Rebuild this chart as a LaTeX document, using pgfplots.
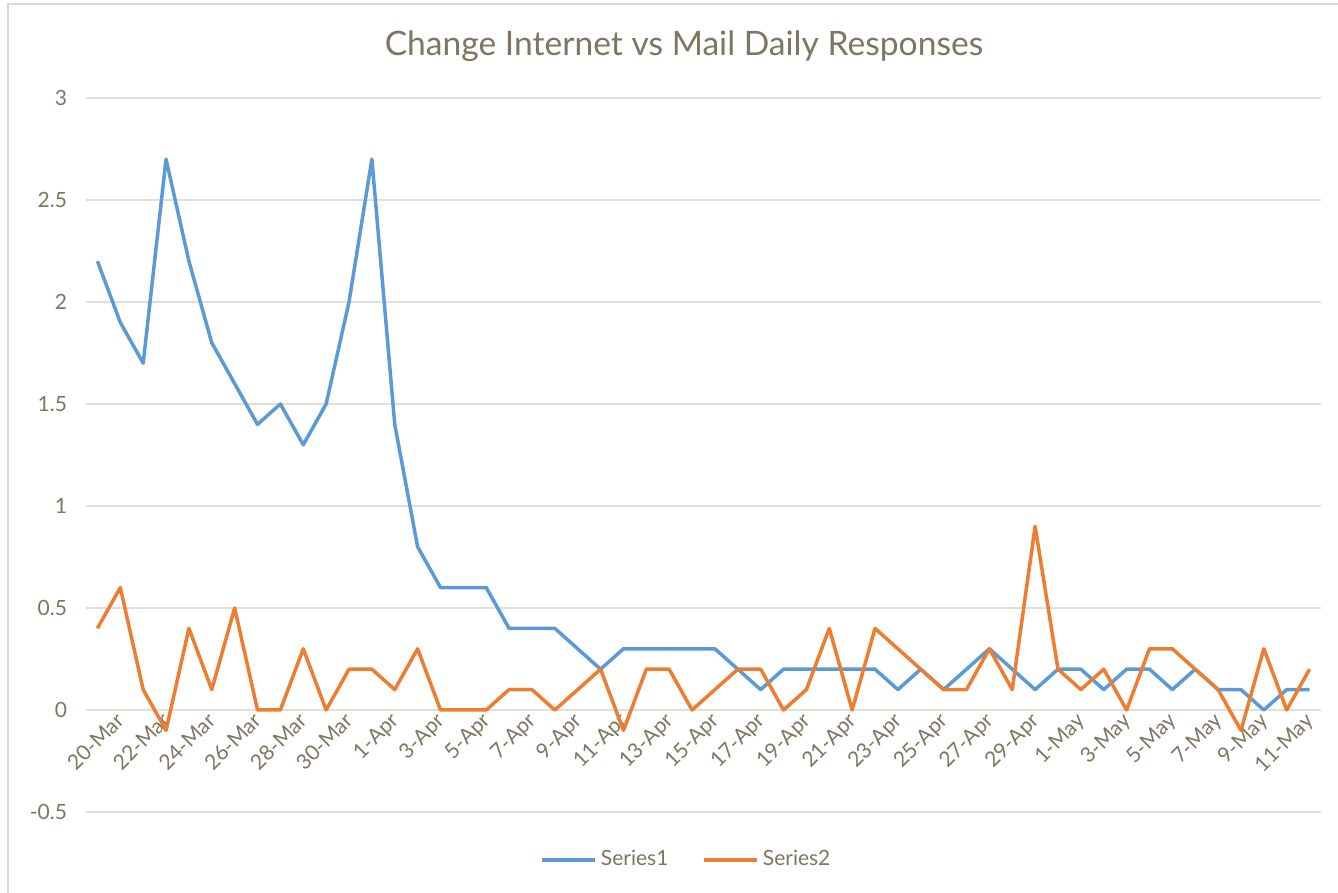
\documentclass[border=0pt]{standalone}
\usepackage{fontspec}
\setmainfont{Lato}
\usepackage{pgfplots}
\pgfplotsset{compat=1.18}
\definecolor{txt}{HTML}{7D7660}
\definecolor{gridc}{HTML}{E2DFD5}
\definecolor{framec}{HTML}{DAD7CC}
\definecolor{sone}{HTML}{5B9BD5}
\definecolor{stwo}{HTML}{ED7D31}
\begin{document}
\begin{tikzpicture}
\useasboundingbox (-43pt,-40.5pt) rectangle (626pt,406pt);
\fill[white] (-43pt,-40.5pt) rectangle (626pt,406pt);
\draw[framec, line width=1pt] (-38.75pt,-41pt) -- (-38.75pt,404pt) -- (627pt,404pt);
\begin{axis}[
  scale only axis, width=617.5pt, height=357pt,
  xmin=-0.5, xmax=53.5, ymin=-0.5, ymax=3,
  axis x line=middle, axis y line=left,
  axis line style={draw=none,-},
  ytick={-0.5,0,0.5,1,1.5,2,2.5,3},
  xtick={0,2,...,52},
  xticklabels={20-Mar,22-Mar,24-Mar,26-Mar,28-Mar,30-Mar,1-Apr,3-Apr,5-Apr,7-Apr,9-Apr,11-Apr,13-Apr,15-Apr,17-Apr,19-Apr,21-Apr,23-Apr,25-Apr,27-Apr,29-Apr,1-May,3-May,5-May,7-May,9-May,11-May},
  ymajorgrids, grid style={gridc, line width=1pt},
  major tick length=0pt,
  /pgf/number format/assume math mode=true,
  tick label style={font=\fontsize{10.5}{12}\selectfont, text=txt},
  yticklabel style={anchor=east, xshift=-6pt},
  xticklabel style={rotate=45, anchor=north east, xshift=9pt, yshift=-3pt},
  legend columns=2,
  legend style={draw=none, fill=none, at={(0.487,-0.067)}, anchor=center,
    font=\fontsize{10.5}{12}\selectfont, text=txt,
    /tikz/every even column/.append style={column sep=15pt}},
  legend cell align=left,
  legend image code/.code={\draw[#1] (0pt,0pt) -- (26.5pt,0pt);},
]
\addplot[sone, line width=1.75pt, line join=round] coordinates {
(0,2.2) (1,1.9) (2,1.7) (3,2.7) (4,2.2) (5,1.8) (6,1.6) (7,1.4) (8,1.5) (9,1.3)
(10,1.5) (11,2.0) (12,2.7) (13,1.4) (14,0.8) (15,0.6) (16,0.6) (17,0.6) (18,0.4) (19,0.4)
(20,0.4) (21,0.3) (22,0.2) (23,0.3) (24,0.3) (25,0.3) (26,0.3) (27,0.3) (28,0.2) (29,0.1)
(30,0.2) (31,0.2) (32,0.2) (33,0.2) (34,0.2) (35,0.1) (36,0.2) (37,0.1) (38,0.2) (39,0.3)
(40,0.2) (41,0.1) (42,0.2) (43,0.2) (44,0.1) (45,0.2) (46,0.2) (47,0.1) (48,0.2) (49,0.1)
(50,0.1) (51,0.0) (52,0.1) (53,0.1)};
\addlegendentry{Series1}
\addplot[stwo, line width=1.75pt, line join=round] coordinates {
(0,0.4) (1,0.6) (2,0.1) (3,-0.1) (4,0.4) (5,0.1) (6,0.5) (7,0) (8,0) (9,0.3)
(10,0) (11,0.2) (12,0.2) (13,0.1) (14,0.3) (15,0) (16,0) (17,0) (18,0.1) (19,0.1)
(20,0) (21,0.1) (22,0.2) (23,-0.1) (24,0.2) (25,0.2) (26,0) (27,0.1) (28,0.2) (29,0.2)
(30,0) (31,0.1) (32,0.4) (33,0) (34,0.4) (35,0.3) (36,0.2) (37,0.1) (38,0.1) (39,0.3)
(40,0.1) (41,0.9) (42,0.2) (43,0.1) (44,0.2) (45,0) (46,0.3) (47,0.3) (48,0.2) (49,0.1)
(50,-0.1) (51,0.3) (52,0) (53,0.2)};
\addlegendentry{Series2}
\end{axis}
\node[anchor=base, text=txt, font=\fontsize{16.8}{20}\selectfont] at (299pt,378pt) {Change Internet vs Mail Daily Responses};
\end{tikzpicture}
\end{document}
